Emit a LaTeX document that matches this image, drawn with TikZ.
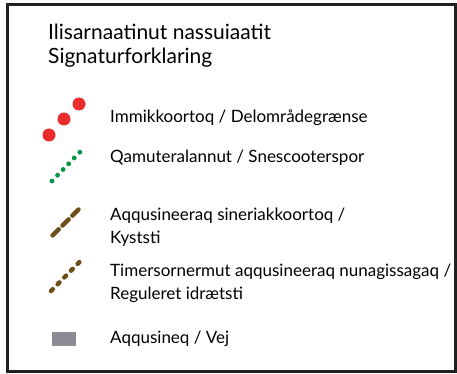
\documentclass[tikz,border=0pt]{standalone}
\usepackage{fontspec}
\setmainfont{Lato}
\usepackage{tikz}

\definecolor{dotred}{RGB}{234,44,44}
\definecolor{scootergreen}{RGB}{0,150,68}
\definecolor{pathbrown}{RGB}{108,78,24}
\definecolor{roadgrey}{RGB}{140,140,150}
\definecolor{framegrey}{RGB}{35,31,32}

\begin{document}
\begin{tikzpicture}
		[x=1pt, y=-1pt,
		legend frame/.style={draw=framegrey, line width=3pt},
		title text/.style={anchor=base west, inner sep=0pt, align=left,
			font=\fontsize{21}{23.5}\selectfont},
		label text/.style={anchor=base west, inner sep=0pt, align=left,
			font=\fontsize{17}{23}\selectfont},
		red dot/.style={fill=dotred, radius=6.5},
		scooter line/.style={scootergreen, line width=4.8pt, line cap=round,
			dash pattern=on 0pt off 8pt},
		coast path/.style={pathbrown, line width=4.5pt, line cap=round,
			dash pattern=on 8.6pt off 5.4pt},
		sport path/.style={pathbrown, line width=4.5pt, line cap=round,
			dash pattern=on 2.5pt off 7pt},
		road box/.style={fill=roadgrey}]

		\useasboundingbox (0,0) rectangle (457,374);
		\draw[legend frame] (7.5,4.5) rectangle (455.5,371.5);

		% titel (base = sidste linje)
		\node[title text] (title) at (48,63.5)
			{Ilisarnaatinut nassuiaatit\\Signaturforklaring};

		% delomraadegraense
		\foreach \x/\y in {49/135, 64/119, 79/104}
			\fill[red dot] (\x,\y) circle;
		\node[label text] (division) at (110,123) {Immikkoortoq / Delområdegrænse};

		% snescooterspor
		\draw[scooter line] (52,181) -- (80,152);
		\node[label text] (scooter) at (110,163) {Qamuteralannut / Snescooterspor};

		% kyststi
		\draw[coast path] (52.6,235.4) -- (78.5,209.5);
		\node[label text] (coast) at (110,243) {Aqqusineeraq sineriakkoortoq /\\Kyststi};

		% reguleret idraetssti
		\draw[sport path] (51,291) -- (79.5,262);
		\node[label text] (sport) at (110,299)
			{Timersornermut aqqusineeraq nunagissagaq /\\Reguleret idrætsti};

		% vej
		\fill[road box] (52,332) rectangle (76,346);
		\node[label text] (road) at (110,343) {Aqqusineq / Vej};

	\end{tikzpicture}
\end{document}
